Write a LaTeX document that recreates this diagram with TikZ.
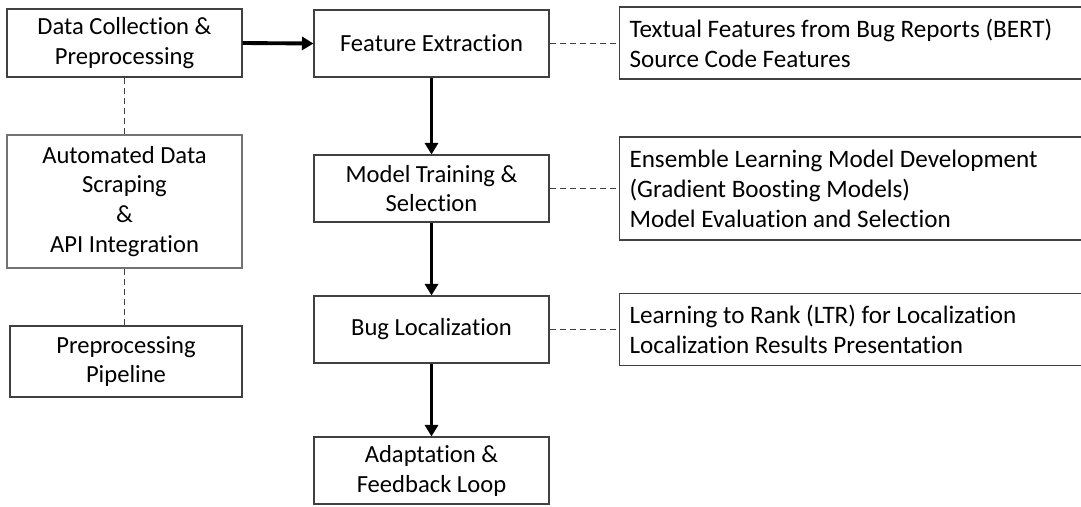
\documentclass[tikz,border=0pt]{standalone}
\usepackage{fontspec}
\setmainfont{Carlito}[Ligatures=NoCommon]
\usetikzlibrary{arrows.meta}

\begin{document}
\begin{tikzpicture}[
    font=\fontsize{14}{17}\selectfont,
    stage/.style={draw=black!75, line width=0.6pt, fill=white,
                  minimum width=4.70cm, minimum height=1.34cm,
                  inner sep=2pt, align=center},
    detail/.style={draw=black!75, line width=0.6pt, fill=white, anchor=west,
                   font=\fontsize{14.3}{17}\selectfont,
                   text width=10.2cm, inner xsep=0.2cm, align=flush left},
    flow/.style={line width=2.2pt, -{Triangle[length=2.3mm, width=2.6mm]}},
    link/.style={black!75, line width=0.6pt, dash pattern=on 3.4pt off 2.3pt},
]
\useasboundingbox (0,0) rectangle (21.62,-10.12);

% ---- left column: data sources ----
\node[stage, minimum height=1.36cm] (collect) at (2.49,-0.86)
    {Data Collection \&\\Preprocessing};
\node[stage, minimum height=2.66cm, draw=black!55] (scrape) at (2.49,-4.03)
    {Automated Data\\Scraping\\\&\\API Integration};
\node[stage, minimum width=4.64cm, minimum height=1.42cm] (pipe) at (2.52,-7.23)
    {Preprocessing\\Pipeline};

% ---- middle column: main pipeline ----
\node[stage] (feat)  at (8.63,-0.87) {Feature Extraction};
\node[stage] (train) at (8.63,-3.77) {Model Training \&\\Selection};
\node[stage] (loc)   at (8.63,-6.59) {Bug Localization};
\node[stage] (adapt) at (8.63,-9.41) {Adaptation \&\\Feedback Loop};

% ---- right column: details per stage ----
\node[detail, minimum height=1.44cm] (featinfo) at (12.38,-0.86)
    {Textual Features from Bug Reports (BERT)\\Source Code Features};
\node[detail, minimum height=2.06cm] (traininfo) at (12.38,-3.77)
    {Ensemble Learning Model Development\\(Gradient Boosting Models)\\Model Evaluation and Selection};
\node[detail, minimum height=1.44cm] (locinfo) at (12.38,-6.59)
    {Learning to Rank (LTR) for Localization\\Localization Results Presentation};

% ---- connectors ----
\draw[flow] (collect.east) -- (feat.west);
\draw[flow] (feat) -- (train);
\draw[flow] (train) -- (loc);
\draw[flow] (loc) -- (adapt);

\draw[link] (collect.south) -- (scrape.north);
\draw[link] (scrape.south) -- (scrape.south |- pipe.north);
\draw[link] (feat.east) -- (feat.east -| featinfo.west);
\draw[link] (train.east) -- (train.east -| traininfo.west);
\draw[link] (loc.east) -- (loc.east -| locinfo.west);
\end{tikzpicture}
\end{document}
